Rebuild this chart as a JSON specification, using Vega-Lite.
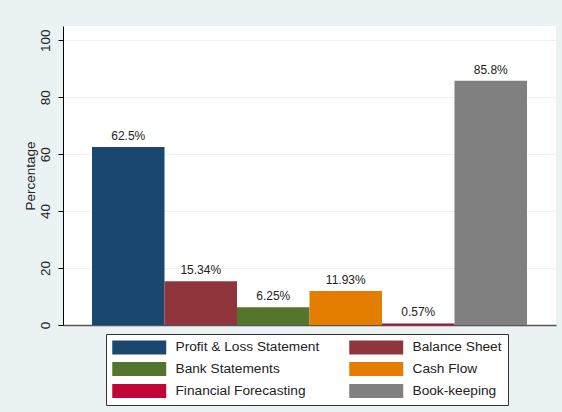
{
  "$schema": "https://vega.github.io/schema/vega-lite/v6.json",
  "width": 493,
  "height": 299,
  "autosize": {"type": "none"},
  "padding": {"left": 63, "top": 26, "right": 6, "bottom": 87},
  "background": "#EAF2F3",
  "config": {
    "view": {"fill": "white", "stroke": null},
    "font": "Liberation Sans"
  },
  "data": {
    "values": [
      {"category": "Profit & Loss Statement", "pct": 62.5, "label": "62.5%"},
      {"category": "Balance Sheet", "pct": 15.34, "label": "15.34%"},
      {"category": "Bank Statements", "pct": 6.25, "label": "6.25%"},
      {"category": "Cash Flow", "pct": 11.93, "label": "11.93%"},
      {"category": "Financial Forecasting", "pct": 0.57, "label": "0.57%"},
      {"category": "Book-keeping", "pct": 85.8, "label": "85.8%"}
    ]
  },
  "encoding": {
    "x": {
      "field": "category",
      "type": "nominal",
      "sort": null,
      "scale": {"paddingInner": 0, "paddingOuter": 0.4},
      "axis": {
        "title": null,
        "labels": false,
        "ticks": false,
        "domainColor": "#555555",
        "domainWidth": 1.5
      }
    },
    "y": {
      "field": "pct",
      "type": "quantitative",
      "scale": {"domain": [0, 105], "nice": false},
      "axis": {
        "title": "Percentage",
        "titleFontSize": 13.5,
        "titleFontWeight": "normal",
        "titleColor": "#222222",
        "titlePadding": 1,
        "values": [0, 20, 40, 60, 80, 100],
        "labelAngle": -90,
        "labelAlign": "center",
        "labelBaseline": "bottom",
        "labelFontSize": 13.5,
        "labelColor": "#222222",
        "labelPadding": 6,
        "tickSize": 5,
        "tickColor": "#000000",
        "domainColor": "#000000",
        "grid": true,
        "gridColor": "#EAF2F3",
        "gridWidth": 1
      }
    }
  },
  "layer": [
    {
      "mark": {"type": "bar"},
      "encoding": {
        "color": {
          "field": "category",
          "type": "nominal",
          "sort": null,
          "scale": {
            "domain": ["Profit & Loss Statement", "Balance Sheet", "Bank Statements", "Cash Flow", "Financial Forecasting", "Book-keeping"],
            "range": ["#1A476F", "#90353B", "#55752F", "#E37E00", "#C10534", "#808080"]
          },
          "legend": {
            "title": null,
            "orient": "none",
            "legendX": 43,
            "legendY": 308,
            "direction": "horizontal",
            "columns": 2,
            "columnPadding": 29,
            "rowPadding": 6,
            "symbolType": "M-1,-1.04H7V1.04H-1Z",
            "symbolSize": 182,
            "symbolStrokeWidth": 0,
            "symbolOpacity": 1,
            "labelFontSize": 13.7,
            "labelColor": "#222222",
            "labelOffset": 49.5,
            "labelLimit": 300,
            "fillColor": "white",
            "strokeColor": "#333333",
            "padding": 6
          }
        }
      }
    },
    {
      "mark": {"type": "text", "baseline": "bottom", "dy": -4, "fontSize": 12, "color": "#222222"},
      "encoding": {"text": {"field": "label"}}
    }
  ]
}
